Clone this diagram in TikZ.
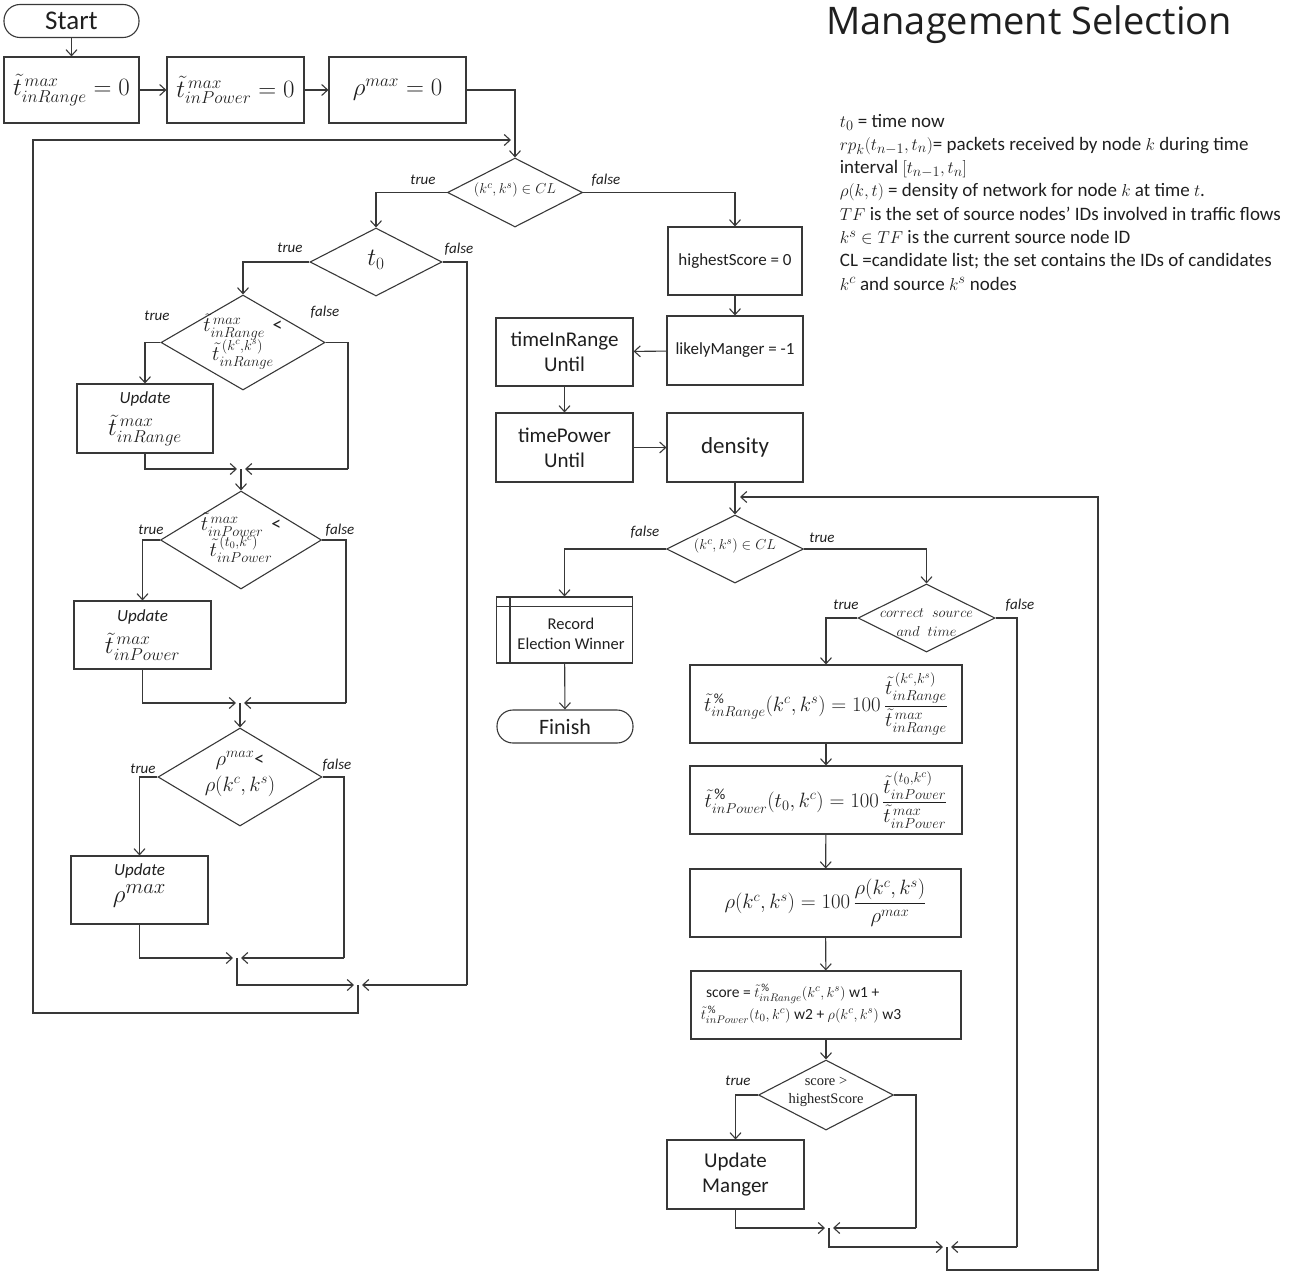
\documentclass[tikz,border=0pt]{standalone}
\usepackage{amsmath}
\usepackage{fontspec}
\setmainfont{Carlito}
\newfontfamily\titlefont{Open Sans}
\newfontfamily\seriffont{Liberation Serif}
\usetikzlibrary{shapes.geometric,arrows.meta}
\newcommand{\fsz}[2]{\fontsize{#1}{#2}\selectfont}
\colorlet{ink}{black!78}

\begin{document}
\begin{tikzpicture}[x=1pt,y=-1pt,line width=1.1pt,draw=ink,text=black!88,
  arr/.style={-{Straight Barb[length=6pt,width=11pt]}},
  box/.style={draw,rectangle,inner sep=2pt,align=center,minimum width=137pt,minimum height=68pt},
  term/.style={draw,rectangle,rounded corners=16pt,minimum width=135pt,minimum height=33pt,inner sep=0pt,font=\fsz{27}{30}},
  dia/.style={draw,diamond,inner sep=0pt},
  lbl/.style={font=\fsz{15}{17}\itshape},
  big/.style={font=\fsz{21}{25}},
  small/.style={font=\fsz{17}{21}}]
\useasboundingbox (0,0) rectangle (1292,1271);

% ---------- title and legend ----------
\node[font=\titlefont\fsz{38}{44}] (title) at (1029,25) {Management Selection};
\node[anchor=north west,align=left,font=\fsz{19}{23.3}] (legend) at (836,110) {%
$t_0$ = time now\\
$rp_k(t_{n-1},t_n)$= packets received by node $k$ during time\\
interval $[t_{n-1},t_n]$\\
$\rho(k,t)$ = density of network for node $k$ at time $t$.\\
$TF$ is the set of source nodes' IDs involved in traffic flows\\
$k^s\in TF$ is the current source node ID\\
CL =candidate list; the set contains the IDs of candidates\\
$k^c$ and source $k^s$ nodes};

% ---------- initialisation ----------
\node[term] (start) at (71.5,21) {Start};
\node[box,minimum width=135pt,minimum height=66pt,font=\fsz{24}{26}] (b1) at (71.5,90) {$\tilde t^{\,max}_{inRange}=0$};
\node[box,minimum height=66pt,font=\fsz{24}{26}] (b2) at (235.5,90) {$\tilde t^{\,max}_{inPower}=0$};
\node[box,minimum height=66pt,font=\fsz{27}{30}] (b3) at (397.5,90) {$\rho^{max}=0$};

% ---------- left loop: maxima ----------
\node[dia,minimum width=135pt,minimum height=69pt] (d1) at (515,192.5) {};
\node[font=\fsz{15}{16}] (d1t) at (515,190) {$(k^c,k^s)\in CL$};
\node[dia,minimum width=132pt,minimum height=68pt] (d2) at (376,262) {};
\node[font=\fsz{27}{28}] (d2t) at (376,260) {$t_0$};
\node[dia,minimum width=164pt,minimum height=95pt] (d3) at (243,342.5) {};
\node[align=center,font=\fsz{20}{22}] (d3t) at (243,342) {$\tilde t^{\,max}_{inRange}$ \,<\\[-2pt]$\tilde t^{\,(k^c,k^s)}_{inRange}$};
\node[box,minimum width=136pt,minimum height=69pt] (u1) at (145,418.5) {\textit{\fsz{17}{18}Update}\\[8pt]{\fsz{27}{28}$\tilde t^{\,max}_{inRange}$}};
\node[dia,minimum width=161pt,minimum height=98pt] (d4) at (241,540) {};
\node[align=center,font=\fsz{20}{22}] (d4t) at (241,538) {$\tilde t^{\,max}_{inPower}$ \,<\\[-2pt]$\tilde t^{\,(t_0,k^c)}_{inPower}$};
\node[box,minimum height=68pt] (u2) at (142.5,635) {\textit{\fsz{17}{18}Update}\\[8pt]{\fsz{27}{28}$\tilde t^{\,max}_{inPower}$}};
\node[dia,minimum width=164pt,minimum height=98pt] (d5) at (240,777) {};
\node[align=center,font=\fsz{20}{26}] (d5t) at (240,774) {$\rho^{max}$<\\$\rho(k^c,k^s)$};
\node[box,minimum height=68pt] (u3) at (139.5,890) {\textit{\fsz{17}{18}Update}\\[6pt]{\fsz{28}{30}$\rho^{max}$}\\[2pt]};

\coordinate (jt) at (515,140);
\coordinate (j1) at (241,469);
\coordinate (j2) at (240,703);
\coordinate (j3) at (237,958);
\coordinate (j0) at (358,985);
\coordinate (c2) at (467,985);
\coordinate (c3) at (348,469);
\coordinate (c4) at (346,703);
\coordinate (c5) at (344,958);
\coordinate (lb) at (33,1013);

\draw[arr] (start) -- (b1);
\draw[arr] (b1) -- (b2);
\draw[arr] (b2) -- (b3);
\draw (b3.east) -| (jt);
\draw[arr] (jt) -- (d1.north);
\draw[arr] (d1.west) -| (d2.north);
\draw[arr] (d2.west) -| (d3.north);
\draw (d2.east) -| (c2);
\draw[arr] (c2) -- ([xshift=4pt]j0);
\draw[arr] (d3.west) -| (u1.north);
\draw (d3.east) -| (c3);
\draw[arr] (c3) -- ([xshift=4pt]j1);
\draw[arr] (u1.south) |- ([xshift=-4pt]j1);
\draw[arr] (j1) -- (d4.north);
\draw[arr] (d4.west) -| (u2.north);
\draw (d4.east) -| (c4);
\draw[arr] (c4) -- ([xshift=4pt]j2);
\draw[arr] (u2.south) |- ([xshift=-4pt]j2);
\draw[arr] (j2) -- (d5.north);
\draw[arr] (d5.west) -| (u3.north);
\draw (d5.east) -| (c5);
\draw[arr] (c5) -- ([xshift=4pt]j3);
\draw[arr] (u3.south) |- ([xshift=-4pt]j3);
\draw[arr] (j3) |- ([xshift=-4pt]j0);
\draw[arr] (j0) |- (lb) |- ([xshift=-4pt]jt);

\node[lbl] at (423,180) {true};
\node[lbl] at (606,180) {false};
\node[lbl] at (290,248) {true};
\node[lbl] at (459,249) {false};
\node[lbl] at (157,316) {true};
\node[lbl] at (325,312) {false};
\node[lbl] at (151,530) {true};
\node[lbl] at (340,530) {false};
\node[lbl] at (143,769) {true};
\node[lbl] at (337,765) {false};

% ---------- right branch: scoring ----------
\node[box,minimum width=134pt,small] (hs) at (735,261) {highestScore = 0};
\node[box,minimum width=136pt,minimum height=69pt,small] (lm) at (735,350.5) {likelyManger = -1};
\node[box,big] (tir) at (564.5,352) {timeInRange\\Until};
\node[box,minimum height=69pt,big] (tpu) at (564.5,447.5) {timePower\\Until};
\node[box,minimum width=136pt,minimum height=69pt,font=\fsz{23}{26}] (den) at (735,447.5) {density};
\node[dia,minimum width=137pt,minimum height=68pt] (d6) at (735,549) {};
\node[font=\fsz{15}{16}] (d6t) at (735,546) {$(k^c,k^s)\in CL$};
% predefined-process box with its inner rules
\node[box,minimum width=136pt,minimum height=66pt] (rec) at (564.5,630) {};
\draw ([yshift=-10pt]rec.north west) -- ([yshift=-10pt]rec.north east);
\draw ([xshift=14pt]rec.north west) -- ([xshift=14pt]rec.south west);
\node[align=center,font=\fsz{16.5}{20}] (rect) at (571,634) {Record\\Election Winner};
\node[term,minimum width=136pt,font=\fsz{22}{25}] (fin) at (565,726.5) {Finish};
\node[dia,minimum width=137pt,minimum height=68pt] (d7) at (926.5,618) {};
\node[align=center,font=\fsz{13.5}{19}] (d7t) at (926.5,623) {$correct\;\;source$\\$and\;\;time$};
\node[box,minimum width=272pt,minimum height=78pt,font=\fsz{20}{22}] (f1) at (826,704) {$\tilde t^{\,\%}_{inRange}(k^c,k^s)=100\,\dfrac{\tilde t^{\,(k^c,k^s)}_{inRange}}{\tilde t^{\,max}_{inRange}}$};
\node[box,minimum width=272pt,minimum height=68pt,font=\fsz{22}{24}] (f2) at (826,800) {$\tilde t^{\,\%}_{inPower}(t_0,k^c)=100\,\dfrac{\tilde t^{\,(t_0,k^c)}_{inPower}}{\tilde t^{\,max}_{inPower}}$};
\node[box,minimum width=271pt,minimum height=68pt,font=\fsz{21}{23}] (f3) at (825.5,903) {$\rho(k^c,k^s)=100\,\dfrac{\rho(k^c,k^s)}{\rho^{max}}$};
\node[box,minimum width=270pt,minimum height=68pt] (f4) at (826,1005) {};
\node[anchor=west,align=left,font=\fsz{15.5}{22}] (f4t) at (697,1004) {\,\,score = $\tilde t^{\,\%}_{inRange}(k^c,k^s)$ w1 +\\$\tilde t^{\,\%}_{inPower}(t_0,k^c)$ w2 + $\rho(k^c,k^s)$ w3};
\node[dia,minimum width=135pt,minimum height=70pt] (d8) at (826,1095) {};
\node[align=center,font=\seriffont\fsz{14.5}{18}] (d8t) at (826,1092) {score >\\highestScore};
\node[box,minimum height=69pt,big] (um) at (735.5,1174.5) {Update\\Manger};

\coordinate (jd) at (735,497);
\coordinate (jm) at (829,1228);
\coordinate (jb) at (947,1247);
\coordinate (c7) at (1017,1247);
\coordinate (c8) at (916,1228);
\coordinate (rb) at (1098,1270);

\draw[arr] (hs) -- (lm);
\draw[arr] (d1.east) -| (hs.north);
\draw[arr] (lm) -- (tir);
\draw[arr] (tir) -- (tpu);
\draw[arr] (tpu) -- (den);
\draw (den.south) -- (jd);
\draw[arr] (jd) -- (d6.north);
\draw[arr] (d6.west) -| (rec.north);
\draw[arr] (d6.east) -| (d7.north);
\draw[arr] (rec) -- (fin);
\draw[arr] (d7.west) -| (f1.north);
\draw (d7.east) -| (c7);
\draw[arr] (c7) -- ([xshift=4pt]jb);
\draw[arr] (f1) -- (f2);
\draw[arr] (f2) -- (f3);
\draw[arr] (f3) -- (f4);
\draw[arr] (f4) -- (d8);
\draw[arr] (d8.west) -| (um.north);
\draw (d8.east) -| (c8);
\draw[arr] (c8) -- ([xshift=4pt]jm);
\draw[arr] (um.south) |- ([xshift=-4pt]jm);
\draw[arr] (jm) |- ([xshift=-4pt]jb);
\draw[arr] (jb) |- (rb) |- ([xshift=5pt]jd);

\node[lbl] at (645,532) {false};
\node[lbl] at (822,538) {true};
\node[lbl] at (846,605) {true};
\node[lbl] at (1020,605) {false};
\node[lbl] at (738,1081) {true};
\end{tikzpicture}
\end{document}
